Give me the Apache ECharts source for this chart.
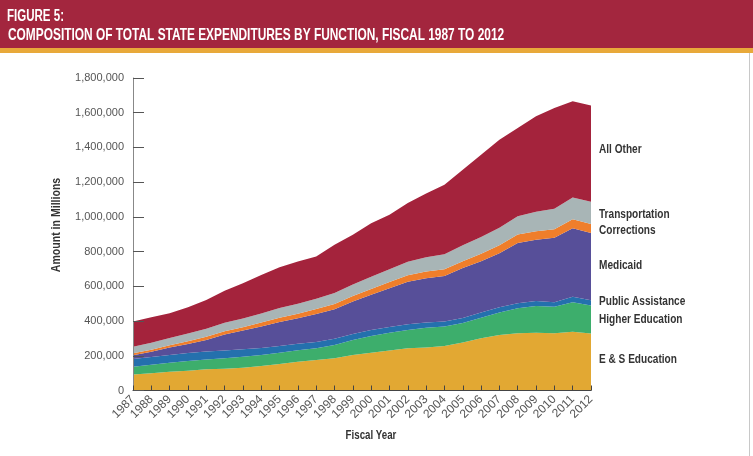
<!DOCTYPE html>
<html lang="en">
<head>
    <meta charset="UTF-8">
    <title>Figure 5: Composition of Total State Expenditures by Function</title>
    <style>
        html, body { margin: 0; background: #fff; }
        #chart { width: 753px; height: 456px; }
    </style>
</head>
<body>
    <div id="chart"></div>
    <script src="https://cdn.jsdelivr.net/npm/echarts@6/dist/echarts.min.js"></script>
    <script>
        // fiscal years on the x axis
        var years = ['1987', '1988', '1989', '1990', '1991', '1992', '1993', '1994', '1995', '1996', '1997', '1998', '1999',
            '2000', '2001', '2002', '2003', '2004', '2005', '2006', '2007', '2008', '2009', '2010', '2011', '2012'];

        // amounts in millions
        var esEducation = [92000, 99000, 108000, 114000, 122000, 126000, 131000, 141000, 153000, 166000, 176000, 186000, 205000,
            218000, 230000, 243000, 248000, 257000, 276000, 301000, 320000, 330000, 333000, 330000, 339000, 328000];
        var higherEducation = [45000, 49000, 52000, 56000, 56000, 60000, 63000, 63000, 65000, 66000, 67000, 76000, 86000,
            96000, 103000, 106000, 113000, 112000, 113000, 118000, 130000, 144000, 154000, 152000, 169000, 162000];
        var publicAssistance = [44000, 45000, 45000, 46000, 47000, 45000, 43000, 41000, 39000, 38000, 37000, 36000, 35000,
            34000, 33000, 32000, 30000, 29000, 29000, 30000, 30000, 29000, 28000, 27000, 32000, 30000];
        var medicaid = [22000, 30000, 42000, 52000, 66000, 92000, 108000, 124000, 138000, 146000, 161000, 170000, 186000,
            203000, 223000, 246000, 256000, 262000, 287000, 295000, 311000, 346000, 353000, 371000, 395000, 387000];
        var corrections = [11000, 12000, 14000, 16000, 18000, 19000, 20000, 22000, 24000, 26000, 28000, 30000, 32000,
            34000, 36000, 37000, 38000, 39000, 40000, 43000, 46000, 49000, 50000, 49000, 51000, 52000];
        var transportation = [38000, 40000, 42000, 44000, 46000, 48000, 50000, 53000, 56000, 58000, 60000, 63000, 66000,
            70000, 74000, 78000, 82000, 86000, 92000, 97000, 100000, 106000, 112000, 118000, 126000, 128000];
        var allOther = [146000, 147000, 142000, 152000, 167000, 185000, 203000, 221000, 235000, 243000, 243000, 278000, 287000,
            309000, 313000, 338000, 368000, 400000, 434000, 474000, 508000, 508000, 549000, 580000, 554000, 554000];

        var yTicks = [0, 200000, 400000, 600000, 800000, 1000000, 1200000, 1400000, 1600000, 1800000];

        var sans = '"Liberation Sans", Arial, sans-serif';

        var seriesDefs = [
            { name: 'E & S Education', data: esEducation, color: '#e2a833', labelY: 360 },
            { name: 'Higher Education', data: higherEducation, color: '#3dae6c', labelY: 320 },
            { name: 'Public Assistance', data: publicAssistance, color: '#2470ad', labelY: 302 },
            { name: 'Medicaid', data: medicaid, color: '#574f99', labelY: 266 },
            { name: 'Corrections', data: corrections, color: '#ef7e2b', labelY: 231 },
            { name: 'Transportation', data: transportation, color: '#a8b5b6', labelY: 215 },
            { name: 'All Other', data: allOther, color: '#a4233c', labelY: 150 }
        ];

        var myChart = echarts.init(document.getElementById('chart'));

        var series = seriesDefs.map(function(d) {
            return {
                name: d.name,
                type: 'line',
                stack: 'total',
                data: d.data,
                symbol: 'none',
                lineStyle: { width: 0 },
                areaStyle: { color: d.color, opacity: 1 },
                itemStyle: { color: d.color },
                z: 2
            };
        });

        // condensed bold text, squeezed horizontally since no condensed face is installed
        function label(text, x, y, size, squeeze, extra) {
            var el = {
                type: 'text', x: x, y: y, scaleX: squeeze,
                style: { text: text, fill: '#333', font: 'bold ' + size + 'px ' + sans, verticalAlign: 'middle' }
            };
            return echarts.util.merge(el, extra || {}, true);
        }

        // labels to the right of the plot
        var sideLabels = seriesDefs.map(function(d) {
            return label(d.name, 599, d.labelY, 12, 0.84);
        });

        var option = {
            animation: false,
            backgroundColor: '#fff',
            grid: { left: 133, right: 162, top: 78, bottom: 65.5 },
            xAxis: {
                type: 'category',
                data: years,
                boundaryGap: false,
                z: 3,
                axisLine: { lineStyle: { color: '#444', width: 1 } },
                axisTick: { inside: true, length: 5, interval: 0, lineStyle: { color: '#444' } },
                axisLabel: { rotate: 45, interval: 0, color: '#555', fontFamily: sans, fontSize: 12, margin: 7 }
            },
            yAxis: {
                type: 'value',
                min: yTicks[0],
                max: yTicks[yTicks.length - 1],
                interval: yTicks[1] - yTicks[0],
                z: 3,
                axisLine: { show: true, lineStyle: { color: '#888', width: 1 } },
                axisTick: { show: true, inside: true, length: 11, lineStyle: { color: '#555' } },
                splitLine: { show: false },
                axisLabel: {
                    color: '#555',
                    fontFamily: sans,
                    fontSize: 11,
                    margin: 9,
                    formatter: function(v) { return v.toLocaleString('en-US'); }
                }
            },
            graphic: [
                { type: 'rect', shape: { x: 0, y: 0, width: 753, height: 48 }, style: { fill: '#a3263e' } },
                { type: 'rect', shape: { x: 0, y: 48, width: 753, height: 5 }, style: { fill: '#e8a93a' } },
                { type: 'line', shape: { x1: 749.5, y1: 53, x2: 749.5, y2: 456 }, style: { stroke: '#c8c8c8', lineWidth: 1 } },
                label('FIGURE 5:', 7, 17, 16, 0.72, { style: { fill: '#fff' } }),
                label('COMPOSITION OF TOTAL STATE EXPENDITURES BY FUNCTION, FISCAL 1987 TO 2012', 8, 35, 17, 0.70, { style: { fill: '#fff' } }),
                label('Amount in Millions', 57, 225, 12, 0.88, { rotation: Math.PI / 2, style: { textAlign: 'center' } }),
                label('Fiscal Year', 371, 436, 12, 0.81, { style: { textAlign: 'center' } })
            ].concat(sideLabels),
            series: series
        };

        myChart.setOption(option);
    </script>
</body>
</html>
